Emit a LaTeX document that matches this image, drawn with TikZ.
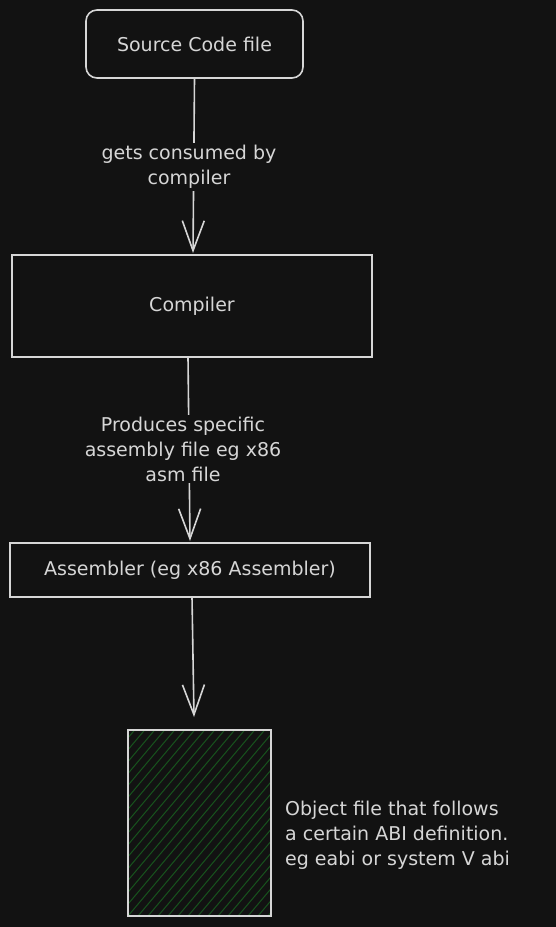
\documentclass[tikz,border=0pt]{standalone}
\usepackage{fontspec}
\setmainfont{DejaVu Sans}
\usetikzlibrary{arrows.meta}
\definecolor{bg}{HTML}{121212}
\definecolor{ink}{HTML}{D6D6D6}
\definecolor{hatch}{HTML}{17531D}
\tikzset{
  box/.style={draw=ink, line width=1.6pt, text=ink, font=\fontsize{19}{25}\selectfont, inner sep=0pt},
  conn/.style={draw=ink, line width=1.6pt, -{Straight Barb[length=30pt,width=22pt,line width=1.6pt]}},
  lbl/.style={text=ink, fill=bg, font=\fontsize{19}{25}\selectfont, align=center, inner sep=2pt},
  note/.style={text=ink, font=\fontsize{19}{25}\selectfont, align=left, inner sep=0pt, anchor=west}
}
\begin{document}
\begin{tikzpicture}[x=1pt,y=-1pt]
\fill[bg] (0,0) rectangle (556,927);
\useasboundingbox (0,0) rectangle (556,927);

\node[box, rounded corners=11pt, minimum width=217pt, minimum height=68pt] (src) at (194.5,44) {Source Code file};
\node[box, minimum width=360pt, minimum height=102pt] (comp) at (192,306) {Compiler};
\node[box, minimum width=360pt, minimum height=54pt] (asm) at (190,570) {Assembler (eg x86 Assembler)};
\node[minimum width=143pt, minimum height=186pt, inner sep=0pt] (obj) at (199.5,823) {};

\begin{scope}
\clip (obj.south west) rectangle (obj.north east);
\foreach \i in {-22,...,16}{
  \draw[hatch, line width=1pt] (128+\i*10,916) -- ++(160,-190);
}
\end{scope}
\draw[ink, line width=1.6pt] (obj.south west) rectangle (obj.north east);

\coordinate (a1s) at (src.south);
\coordinate (a1e) at (193,253);
\draw[conn] (a1s) -- (a1e);
\node[lbl] (l1) at (189,167) {gets consumed by\\compiler};

\coordinate (a2s) at (188,357);
\coordinate (a2e) at (190,541);
\draw[conn] (a2s) -- (a2e);
\node[lbl] (l2) at (183,449) {Produces specific\\assembly file eg x86\\asm file};

\coordinate (a3s) at (192,597);
\coordinate (a3e) at (194,717);
\draw[conn] (a3s) -- (a3e);

\node[note] (txt) at (285,835) {Object file that follows\\a certain ABI definition.\\eg eabi or system V abi};
\end{tikzpicture}
\end{document}
